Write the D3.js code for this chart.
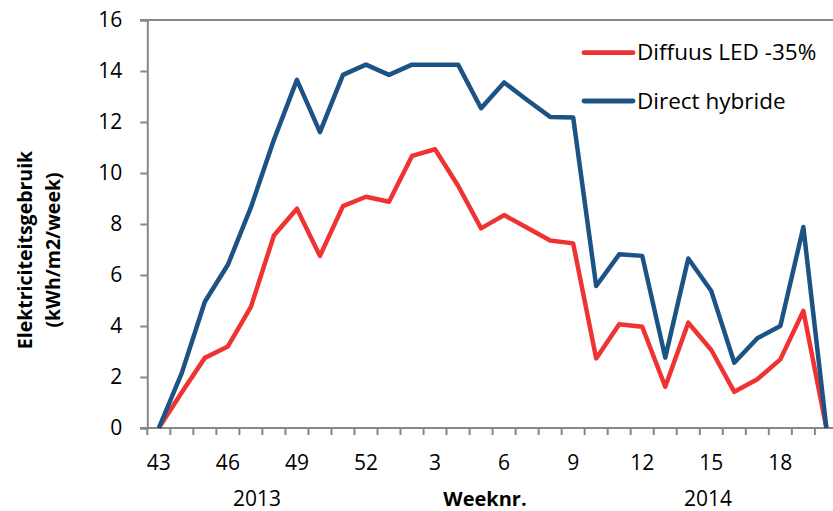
<!DOCTYPE html>
<html><head><meta charset="utf-8">
<script src="https://cdn.jsdelivr.net/npm/d3@7"></script>
<style>
html,body{margin:0;padding:0;background:#fff;}
svg{display:block;font-family:"Open Sans",sans-serif;}
</style></head><body>
<svg id="c" width="833" height="511"></svg>
<script>
const weeks = ["43","44","45","46","47","48","49","50","51","52","1","2","3","4","5","6","7","8","9","10","11","12","13","14","15","16","17","18","19","20"];
const diffuusLED = [0,1.4,2.75,3.2,4.75,7.55,8.6,6.75,8.7,9.07,8.87,10.67,10.93,9.5,7.83,8.35,7.85,7.35,7.24,2.73,4.07,3.97,1.62,4.13,3.06,1.42,1.91,2.69,4.59,0];
const directHybride = [0,2.16,4.95,6.4,8.65,11.3,13.65,11.6,13.85,14.25,13.85,14.25,14.25,14.25,12.54,13.55,12.86,12.2,12.18,5.57,6.81,6.75,2.76,6.65,5.37,2.56,3.52,4.0,7.88,0];
const yTicks = [0,2,4,6,8,10,12,14,16];
const labelWeeks = ["43","46","49","52","3","6","9","12","15","18"];
const seriesNames = ["Diffuus LED -35%","Direct hybride"];
const colors = ["#EF3333","#1D5285"];

const FONT = "'Open Sans',sans-serif";
const svg = d3.select("#c");
const x0 = 147.3, bw = 23.02;
const x = d3.scaleBand().domain(weeks.map((w,i)=>i)).range([x0, x0 + bw*weeks.length]).paddingInner(0).paddingOuter(0);
const y = d3.scaleLinear().domain([0,16]).range([428,20]);
const axisColor = "#878787";

// top border line
svg.append("line").attr("x1",140).attr("x2",833).attr("y1",y(16)).attr("y2",y(16))
  .attr("stroke",axisColor).attr("stroke-width",2);

// y axis
const ya = svg.append("g").attr("transform",`translate(${x0},0)`)
  .call(d3.axisLeft(y).tickValues(yTicks).tickSize(7).tickPadding(18));
ya.select(".domain").attr("stroke",axisColor).attr("stroke-width",2);
ya.selectAll(".tick line").attr("stroke",axisColor).attr("stroke-width",2);
ya.selectAll(".tick text").attr("font-size",21).attr("fill","#000").attr("font-family",FONT);

// x axis
svg.append("line").attr("x1",140).attr("x2",833).attr("y1",y(0)).attr("y2",y(0))
  .attr("stroke",axisColor).attr("stroke-width",2);
const xa = svg.append("g").attr("transform",`translate(0,${y(0)})`)
  .call(d3.axisBottom(x).tickSize(0).tickFormat(i=>weeks[i]));
xa.select(".domain").remove();
xa.selectAll(".tick line").remove();
xa.selectAll(".tick").filter(i=>!labelWeeks.includes(weeks[i]) || i===1).remove();
xa.selectAll(".tick text").attr("font-size",21).attr("fill","#000").attr("font-family",FONT)
  .attr("dy",null).attr("y",42);
// tick marks at category boundaries
svg.append("g").selectAll("line").data(weeks).join("line")
  .attr("x1",(d,i)=>x(i)).attr("x2",(d,i)=>x(i)).attr("y1",y(0)).attr("y2",y(0)+7)
  .attr("stroke",axisColor).attr("stroke-width",2);

// year labels and axis title
svg.append("text").attr("x",257).attr("y",506).attr("text-anchor","middle").attr("font-size",21).text("2013");
svg.append("text").attr("x",708).attr("y",506).attr("text-anchor","middle").attr("font-size",21).text("2014");
svg.append("text").attr("x",485).attr("y",506).attr("text-anchor","middle").attr("font-size",20).attr("font-weight","bold").text("Weeknr.");

// y title
const yt = svg.append("text").attr("transform","translate(0,250) rotate(-90)").attr("text-anchor","middle")
  .attr("font-size",19.5).attr("font-weight","bold");
yt.append("tspan").attr("x",0).attr("y",32).text("Elektriciteitsgebruik");
yt.append("tspan").attr("x",0).attr("y",60).text("(kWh/m2/week)");

// lines
const line = d3.line().x((d,i)=>x(i)+bw/2).y(d=>y(d));
[diffuusLED, directHybride].forEach((s,si)=>{
  svg.append("path").datum(s).attr("d",line).attr("fill","none")
    .attr("stroke",colors[si]).attr("stroke-width",4.5).attr("stroke-linejoin","round");
});
// legend
const lg = [[52.7,60],[101,109]];
seriesNames.forEach((n,i)=>{
  svg.append("line").attr("x1",584).attr("x2",633).attr("y1",lg[i][0]).attr("y2",lg[i][0])
    .attr("stroke",colors[i]).attr("stroke-width",4.8).attr("stroke-linecap","round");
  svg.append("text").attr("x",637).attr("y",lg[i][1]).attr("font-size",22.5).text(n);
});
</script>
</body></html>
